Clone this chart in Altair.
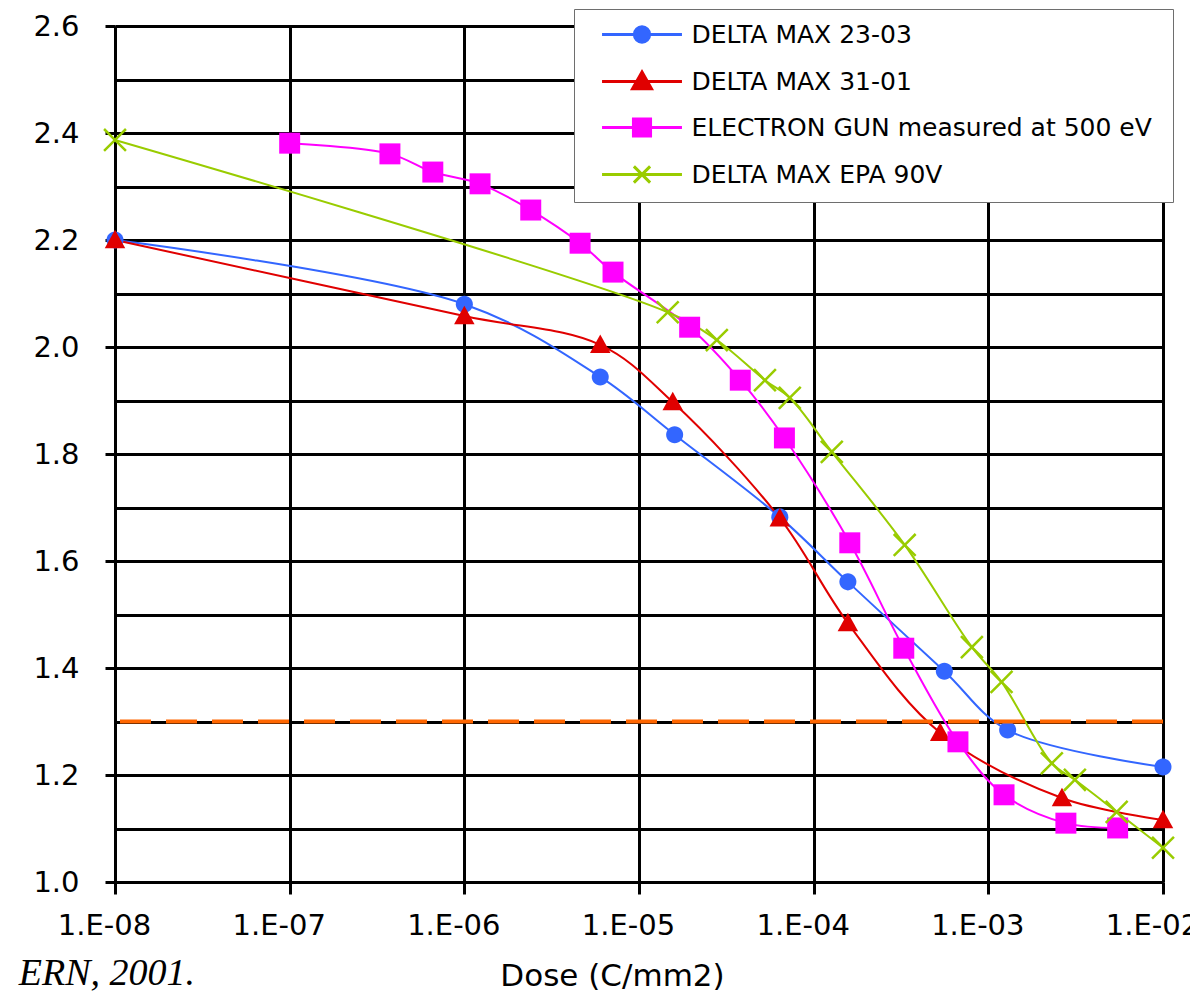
import altair as alt
import pandas as pd

# ---------------- data ----------------
series_names = [
    "DELTA MAX 23-03",
    "DELTA MAX 31-01",
    "ELECTRON GUN  measured at 500 eV",
    "DELTA MAX EPA 90V",
]
series_colors = ["#3366FF", "#E00000", "#FF00FF", "#99CC00"]

blue_dose = [1e-8, 1e-6, 6.0e-6, 1.6e-5, 6.4e-5, 1.57e-4, 5.6e-4, 1.29e-3, 1e-2]
blue_val = [2.20, 2.08, 1.944, 1.836, 1.682, 1.561, 1.394, 1.284, 1.215]

red_dose = [1e-8, 1e-6, 6.0e-6, 1.56e-5, 6.4e-5, 1.57e-4, 5.3e-4, 2.64e-3, 1e-2]
red_val = [2.20, 2.058, 2.004, 1.897, 1.68, 1.484, 1.279, 1.157, 1.116]

pink_dose = [1e-7, 3.75e-7, 6.6e-7, 1.23e-6, 2.4e-6, 4.6e-6, 7.1e-6, 1.95e-5,
             3.8e-5, 6.8e-5, 1.61e-4, 3.28e-4, 6.7e-4, 1.23e-3, 2.78e-3, 5.5e-3]
pink_val = [2.381, 2.361, 2.327, 2.305, 2.256, 2.194, 2.140, 2.037,
            1.938, 1.830, 1.634, 1.437, 1.262, 1.163, 1.110, 1.101]

green_dose = [1e-8, 1.46e-5, 2.79e-5, 5.26e-5, 7.3e-5, 1.27e-4, 3.32e-4,
              8.05e-4, 1.19e-3, 2.31e-3, 3.13e-3, 5.43e-3, 1e-2]
green_val = [2.387, 2.065, 2.013, 1.938, 1.905, 1.804, 1.630,
             1.439, 1.374, 1.222, 1.191, 1.131, 1.064]

threshold = [1.3]

x_ticks = [1e-8, 1e-7, 1e-6, 1e-5, 1e-4, 1e-3, 1e-2]
y_ticks = [1.0, 1.1, 1.2, 1.3, 1.4, 1.5, 1.6, 1.7, 1.8, 1.9, 2.0,
           2.1, 2.2, 2.3, 2.4, 2.5, 2.6]

x_title = "Dose (C/mm2)"
note_text = "ERN, 2001."

# ---------------- table ----------------
pad = "\u00a0" * 7  # invisible padding widens the legend box so it runs off the right edge
rows = []
for name, doses, vals in zip(series_names,
                             [blue_dose, red_dose, pink_dose, green_dose],
                             [blue_val, red_val, pink_val, green_val]):
    for d, v in zip(doses, vals):
        rows.append({"series": name, "legend_label": name + pad, "dose": d, "value": v})
df = pd.DataFrame(rows)
legend_domain = [n + pad for n in series_names]

# ---------------- marker shapes ----------------
circle_path = "M-1,0A1,1,0,1,0,1,0A1,1,0,1,0,-1,0Z"
tri_path = "M0,-1L1,0.8L-1,0.8Z"
square_path = "M-1,-1L1,-1L1,1L-1,1Z"
d = 0.15
x_path = (f"M-1,{-1+d}L{-1+d},-1L0,{-d}L{1-d},-1L1,{-1+d}L{d},0"
          f"L1,{1-d}L{1-d},1L0,{d}L{-1+d},1L-1,{1-d}L{-d},0Z")
point_shapes = [circle_path, tri_path, square_path, x_path]
point_sizes = [290, 420, 440, 560]

seg = "M-4.44,0L4.44,0"
legend_paths = [
    seg + "M-0.85,0A0.85,0.85,0,1,0,0.85,0A0.85,0.85,0,1,0,-0.85,0Z",
    seg + "M0,-1.05L1.05,0.8L-1.05,0.8Z",
    seg + "M-0.95,-0.95L0.95,-0.95L0.95,0.95L-0.95,0.95Z",
    seg + "M-0.9,-0.9L0.9,0.9M-0.9,0.9L0.9,-0.9",
]

color_scale = alt.Scale(domain=series_names, range=series_colors)

x_axis = alt.Axis(
    values=x_ticks,
    labelExpr="'1.E-0' + format(-round(log(datum.value) / LN10), 'd')",
    grid=True, gridColor="black", gridWidth=3, gridOpacity=1,
    domainColor="black", domainWidth=3,
    tickColor="black", tickWidth=3, tickSize=12,
    labelFont="DejaVu Sans", labelFontSize=29, labelColor="black",
    labelPadding=17, labelOffset=-11, labelFlush=False, labelOverlap=False,
    title=x_title, titleFont="DejaVu Sans", titleFontSize=31,
    titleFontWeight="normal", titleColor="black",
    titleX=497, titleY=103, titleBaseline="alphabetic",
)
y_axis = alt.Axis(
    values=y_ticks,
    labelExpr="round(datum.value * 10) % 2 == 0 ? format(datum.value, '.1f') : ''",
    grid=True, gridColor="black", gridWidth=3, gridOpacity=1,
    domainColor="black", domainWidth=3,
    tickColor="black", tickWidth=3, tickSize=10,
    tickOpacity={"condition": {"test": "round(datum.value * 10) % 2 == 0", "value": 1}, "value": 0},
    labelFont="DejaVu Sans", labelFontSize=29, labelColor="black",
    labelPadding=26, labelFlush=False, labelOverlap=False,
    title=None,
)

x_enc = alt.X("dose:Q", scale=alt.Scale(type="log", domain=[1e-8, 1e-2], nice=False), axis=x_axis)
y_enc = alt.Y("value:Q", scale=alt.Scale(domain=[1.0, 2.6], nice=False, zero=False), axis=y_axis)

base = alt.Chart(df)

lines = base.mark_line(interpolate="catmull-rom", strokeWidth=2).encode(
    x=x_enc, y=y_enc,
    color=alt.Color("series:N", scale=color_scale, legend=None),
)

point_layers = []
for name, shp, sz in zip(series_names, point_shapes, point_sizes):
    point_layers.append(
        base.transform_filter(alt.datum.series == name)
        .mark_point(shape=shp, filled=True, size=sz, opacity=1)
        .encode(
            x="dose:Q", y="value:Q",
            color=alt.Color("series:N", scale=color_scale, legend=None),
        )
    )

rule = alt.Chart(pd.DataFrame({"value": threshold})).mark_rule(
    color="#FF6600", strokeWidth=4, strokeDash=[31, 15]
).encode(y="value:Q")

legend = alt.Legend(
    title=None, orient="none", legendX=459, legendY=-17,
    fillColor="white", strokeColor="#6e6e6e", padding=13,
    rowPadding=17, symbolSize=324, symbolStrokeWidth=3,
    symbolOffset=42.5, labelOffset=37,
    labelFont="DejaVu Sans", labelFontSize=25, labelColor="black",
    labelLimit=3000,
)
legend_layer = base.mark_point(filled=True, size=0, opacity=1).encode(
    x="dose:Q", y="value:Q",
    fill=alt.Fill("legend_label:N", scale=alt.Scale(domain=legend_domain, range=series_colors), legend=legend),
    stroke=alt.Stroke("legend_label:N", scale=alt.Scale(domain=legend_domain, range=series_colors), legend=legend),
    shape=alt.Shape("legend_label:N", scale=alt.Scale(domain=legend_domain, range=legend_paths), legend=legend),
)

note = alt.Chart(pd.DataFrame({"note": [note_text]})).mark_text(
    align="right", baseline="alphabetic", font="Liberation Serif",
    fontStyle="italic", fontSize=38, color="black",
).encode(x=alt.value(80), y=alt.value(959), text="note:N")

chart = alt.layer(lines, *point_layers, rule, legend_layer, note).resolve_scale(
    fill="independent", stroke="independent", shape="independent"
).properties(
    width=1048, height=856,
    autosize=alt.AutoSizeParams(type="none"),
    padding={"left": 107, "top": 18, "right": 27, "bottom": 110},
).configure_view(stroke=None)

chart.save("out.html", embed_options={"renderer": "svg", "actions": False})
